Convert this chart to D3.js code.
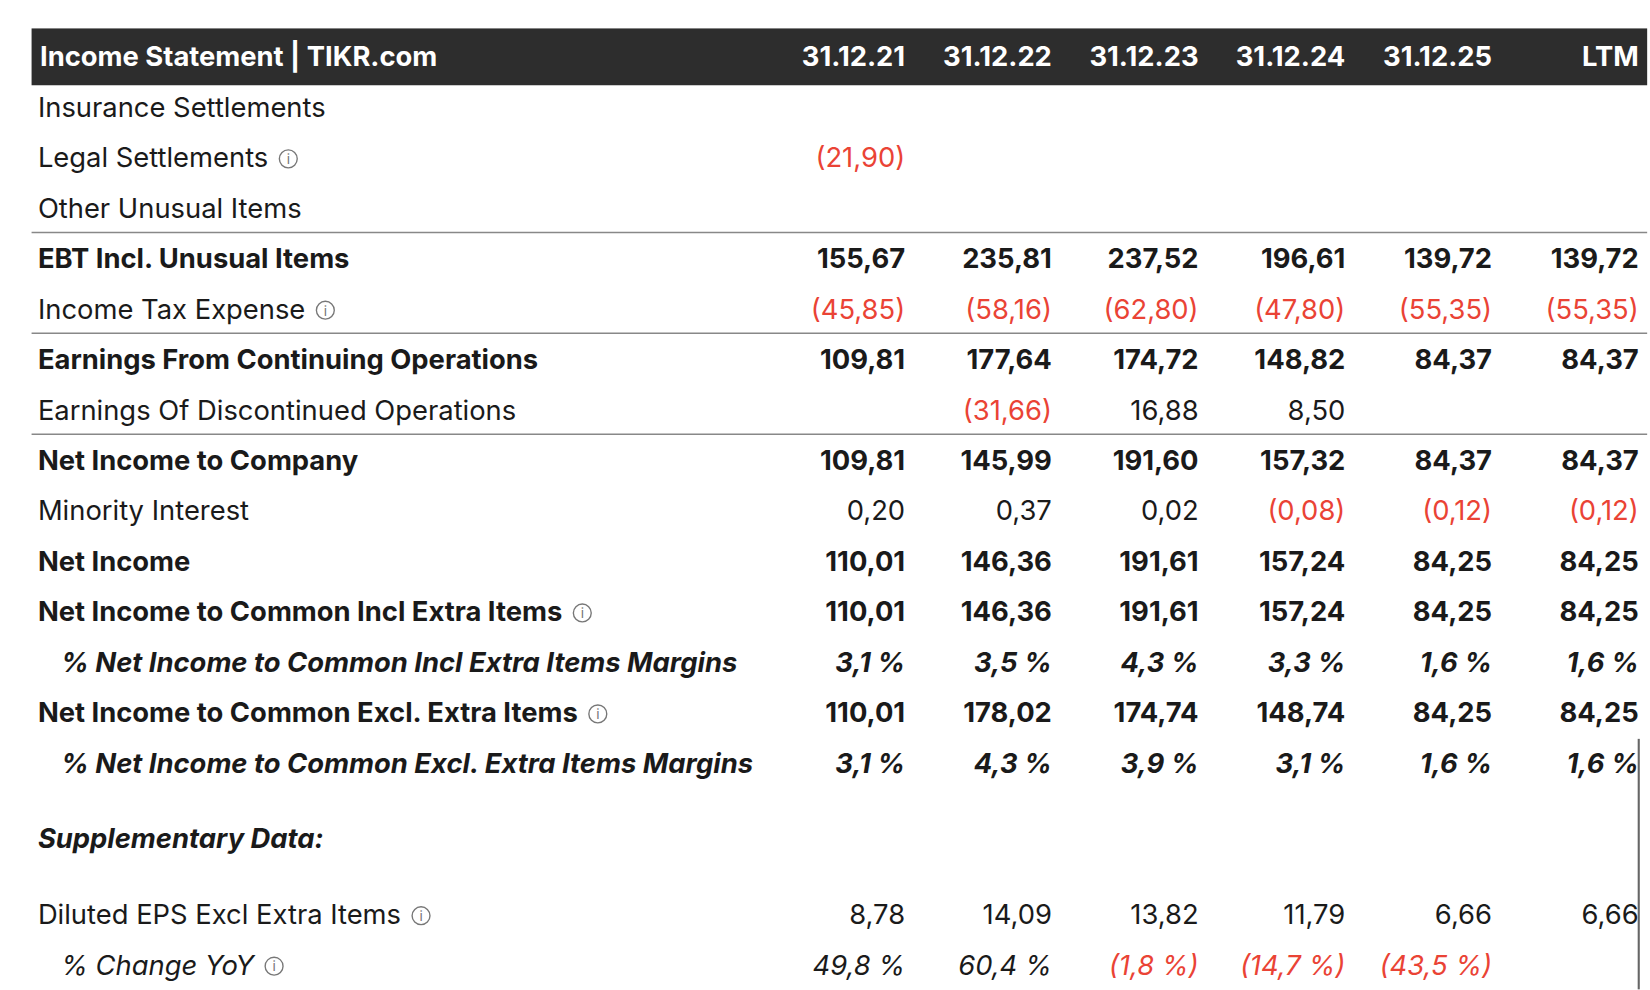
<!DOCTYPE html>
<html><head><meta charset="utf-8">
<script src="https://cdn.jsdelivr.net/npm/d3@7"></script>
<style>body{margin:0;background:#fff}text{font-family:Inter,"Noto Sans",sans-serif}</style>
</head><body><svg id="c" width="1650" height="990"></svg>
<script>
// data
let periods = ["31.12.21","31.12.22","31.12.23","31.12.24","31.12.25","LTM"]
let labels = ["Insurance Settlements","Legal Settlements","Other Unusual Items","EBT Incl. Unusual Items","Income Tax Expense",
  "Earnings From Continuing Operations","Earnings Of Discontinued Operations","Net Income to Company","Minority Interest","Net Income",
  "Net Income to Common Incl Extra Items","% Net Income to Common Incl Extra Items Margins","Net Income to Common Excl. Extra Items",
  "% Net Income to Common Excl. Extra Items Margins","Supplementary Data:","Diluted EPS Excl Extra Items","% Change YoY"]
let rowPos = [0,1,2,3,4,5,6,7,8,9,10,11,12,13,14.5,16,17]
let styles = ["n","n","n","b","n","b","n","b","n","b","b","bi","b","bi","bi","n","i"]
let infoRows = [1,4,10,12,15,16]
let lineAbove = [3,5,7]
let pctRows = [11,13,16]
let values = [
  [null,null,null,null,null,null],
  [-21.90,null,null,null,null,null],
  [null,null,null,null,null,null],
  [155.67,235.81,237.52,196.61,139.72,139.72],
  [-45.85,-58.16,-62.80,-47.80,-55.35,-55.35],
  [109.81,177.64,174.72,148.82,84.37,84.37],
  [null,-31.66,16.88,8.50,null,null],
  [109.81,145.99,191.60,157.32,84.37,84.37],
  [0.20,0.37,0.02,-0.08,-0.12,-0.12],
  [110.01,146.36,191.61,157.24,84.25,84.25],
  [110.01,146.36,191.61,157.24,84.25,84.25],
  [3.1,3.5,4.3,3.3,1.6,1.6],
  [110.01,178.02,174.74,148.74,84.25,84.25],
  [3.1,4.3,3.9,3.1,1.6,1.6],
  [null,null,null,null,null,null],
  [8.78,14.09,13.82,11.79,6.66,6.66],
  [49.8,60.4,-1.8,-14.7,-43.5,null]
]

// reference picture coordinates are ~1568 wide; scale up to 1650
let svg = d3.select("#c").append("g").attr("transform","scale(1.0525)")
let x = d3.scalePoint().domain(periods).range([860,1557])
let y = d3.scaleLinear().domain([0,17]).range([102,917])

function fmt(v,pct){
  let s = pct ? d3.format(".1f")(Math.abs(v)).replace(".",",")+" %" : d3.format(".2f")(Math.abs(v)).replace(".",",")
  return v<0 ? "("+s+")" : s
}

svg.append("rect").attr("x",30).attr("y",27).attr("width",1535).attr("height",54).attr("fill","#2d2d2d")
svg.append("text").attr("x",38).attr("y",63).attr("fill","#fff").attr("font-size",26).attr("font-weight",700).text("Income Statement | TIKR.com")
svg.selectAll(".hd").data(periods).join("text").attr("x",d=>x(d)).attr("y",63).attr("text-anchor","end")
  .attr("fill","#fff").attr("font-size",26).attr("font-weight",700).text(d=>d)

lineAbove.forEach(i=>{
  svg.append("line").attr("x1",30).attr("x2",1565).attr("y1",y(rowPos[i])-25).attr("y2",y(rowPos[i])-25).attr("stroke","#888").attr("stroke-width",1.5)
})

labels.forEach((l,i)=>{
  let st = styles[i], yy = y(rowPos[i])+9
  let indent = pctRows.includes(i) ? 58 : 36
  let t = svg.append("text").attr("x",indent).attr("y",yy).attr("font-size",26).attr("fill","#1a1a1a")
    .attr("font-weight",st.includes("b")?700:400).attr("font-style",st.includes("i")?"italic":"normal").text(l)
  if(infoRows.includes(i)){
    let w = t.node().getComputedTextLength()
    let g = svg.append("g").attr("transform",`translate(${indent+w+19},${y(rowPos[i])+1})`)
    g.append("circle").attr("r",8.5).attr("fill","none").attr("stroke","#777").attr("stroke-width",1.3)
    g.append("text").attr("y",5).attr("text-anchor","middle").attr("font-size",13).attr("fill","#777").attr("font-style","normal").text("i")
  }
  values[i].forEach((v,j)=>{
    if(v==null) return
    svg.append("text").attr("x",x(periods[j])).attr("y",yy).attr("text-anchor","end").attr("font-size",26)
      .attr("fill",v<0?"#ea4335":"#1a1a1a").attr("font-weight",st.includes("b")?700:400)
      .attr("font-style",st.includes("i")?"italic":"normal").text(fmt(v,pctRows.includes(i)))
  })
})

svg.append("line").attr("x1",1557).attr("x2",1557).attr("y1",702).attr("y2",940).attr("stroke","#666").attr("stroke-width",2)
</script></body></html>
